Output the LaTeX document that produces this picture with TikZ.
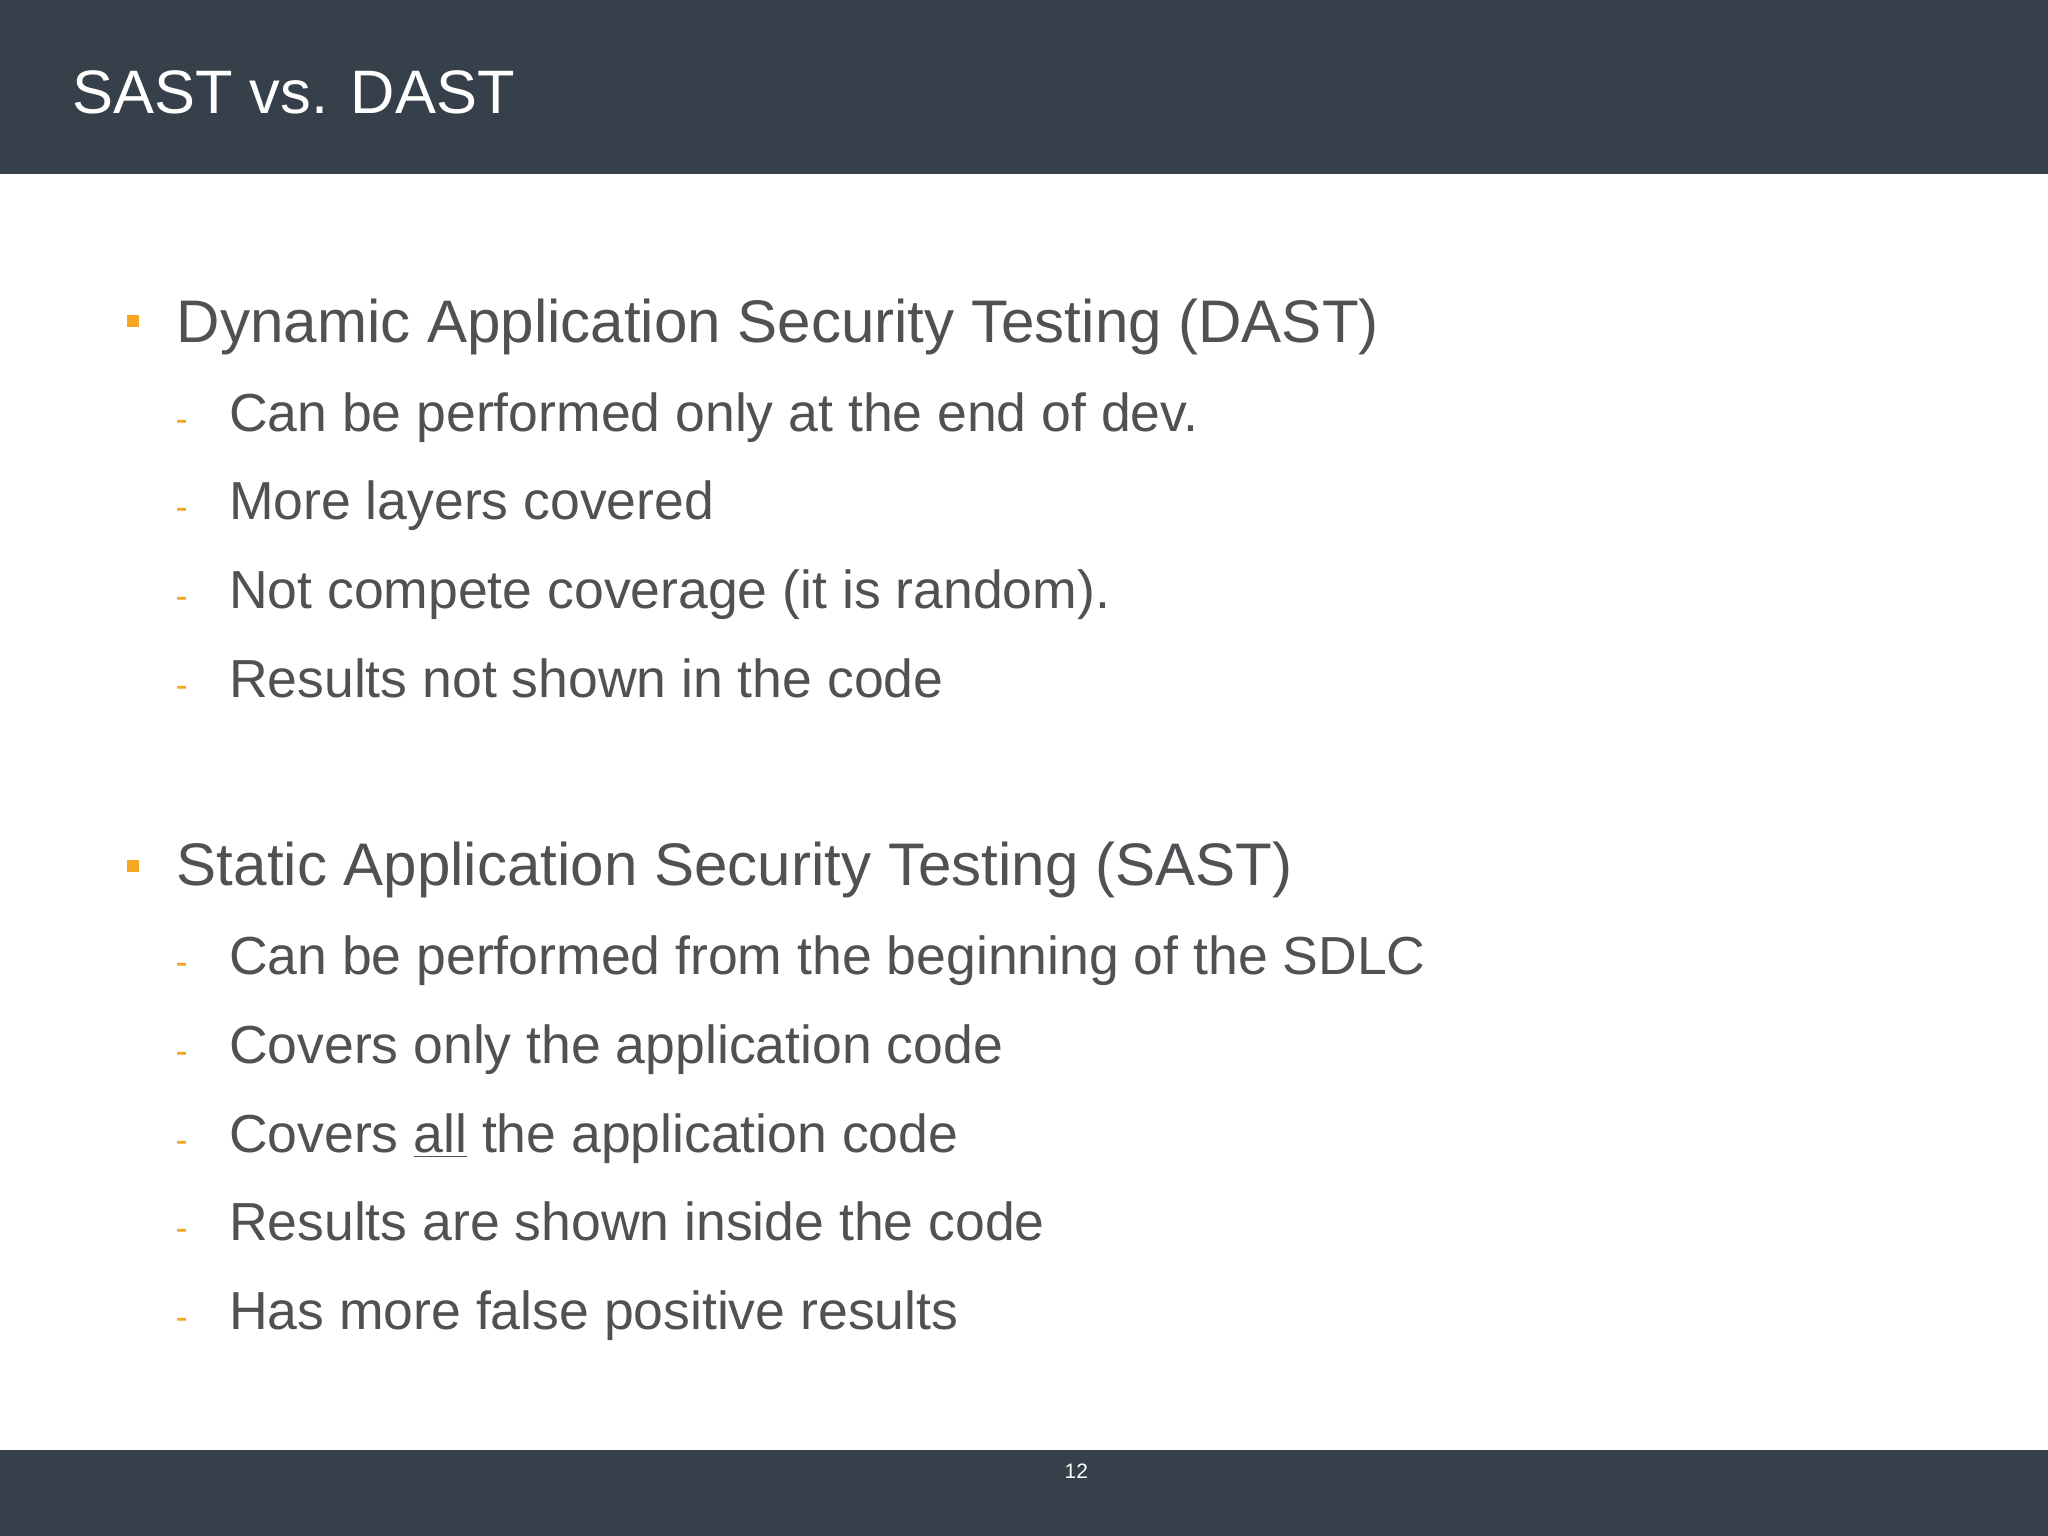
\documentclass[tikz,border=0pt]{standalone}
\usepackage{fontspec}
\setmainfont{Liberation Sans}
\definecolor{bar}{HTML}{36404A}
\definecolor{txt}{HTML}{505055}
\definecolor{org}{HTML}{F5A623}
\begin{document}
\begin{tikzpicture}[x=0.5pt,y=-0.5pt,
  main/.style={anchor=base west,inner sep=0,text=txt,font=\fontsize{23}{27}\selectfont},
  sub/.style={anchor=base west,inner sep=0,text=txt,font=\fontsize{20.5}{24}\selectfont},
  sq/.style={fill=org,minimum size=4.5pt,inner sep=0},
  dsh/.style={anchor=base west,inner sep=0,text=org,font=\fontsize{14}{16}\selectfont}]
\useasboundingbox (0,0) rectangle (1568,1176);
\fill[white] (0,0) rectangle (1568,1176);
\fill[bar] (0,0) rectangle (1568,133);
\fill[bar] (0,1110) rectangle (1568,1176);
\node[anchor=base west,inner sep=0,text=white,font=\fontsize{23.5}{28}\selectfont] (title) at (55,87) {SAST vs. DAST};
\node[anchor=center,inner sep=0,text=white,font=\fontsize{8}{10}\selectfont] (pg) at (824,1126) {12};
\node[sq] (b1) at (102,246) {};
\node[main] (t1) at (135,262) {Dynamic Application Security Testing (DAST)};
\node[sq] (b2) at (102,663) {};
\node[main] (t2) at (135,678) {Static Application Security Testing (SAST)};
\foreach \y/\t [count=\i] in {330/{Can be performed only at the end of dev.},398/{More layers covered},466/{Not compete coverage (it is random).},534/{Results not shown in the code},746/{Can be performed from the beginning of the SDLC},814/{Covers only the application code},882/{Covers \underline{all} the application code},950/{Results are shown inside the code},1018/{Has more false positive results}}{
  \node[dsh] (d\i) at (134,\y) {-};
  \node[sub] (s\i) at (175,\y) {\t};
}
\end{tikzpicture}
\end{document}
